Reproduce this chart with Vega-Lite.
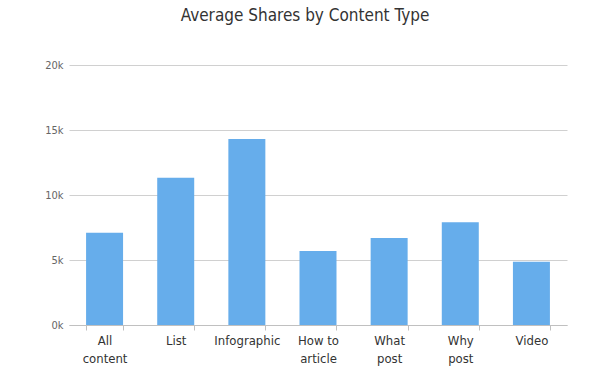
{
  "$schema": "https://vega.github.io/schema/vega-lite/v6.json",
  "autosize": "none",
  "width": 498,
  "height": 260,
  "padding": {"left": 69, "top": 65, "right": 48, "bottom": 49},
  "background": "white",
  "title": {
    "text": "Average Shares by Content Type",
    "font": "DejaVu Sans Condensed",
    "fontSize": 17,
    "fontWeight": "normal",
    "color": "#333333",
    "anchor": "middle",
    "dx": -13,
    "offset": 34
  },
  "data": {
    "values": [
      {"type": "All|content", "shares": 7100},
      {"type": "List", "shares": 11330},
      {"type": "Infographic", "shares": 14300},
      {"type": "How to|article", "shares": 5700},
      {"type": "What|post", "shares": 6700},
      {"type": "Why|post", "shares": 7900},
      {"type": "Video", "shares": 4870}
    ]
  },
  "mark": {"type": "bar", "color": "#66adeb"},
  "encoding": {
    "x": {
      "field": "type",
      "type": "nominal",
      "sort": null,
      "scale": {"paddingInner": 0.48, "paddingOuter": 0.24},
      "axis": {
        "title": null,
        "labelAngle": 0,
        "labelExpr": "split(datum.label, '|')",
        "labelFont": "DejaVu Sans Condensed",
        "labelFontSize": 13,
        "labelColor": "#333333",
        "labelLineHeight": 18,
        "labelPadding": 4,
        "domainColor": "#c0c0c0",
        "tickColor": "#c0c0c0",
        "tickBand": "extent",
        "tickSize": 5,
        "grid": false
      }
    },
    "y": {
      "field": "shares",
      "type": "quantitative",
      "scale": {"domain": [0, 20000]},
      "axis": {
        "title": null,
        "values": [0, 5000, 10000, 15000, 20000],
        "labelExpr": "(datum.value / 1000) + 'k'",
        "labelFont": "DejaVu Sans Condensed",
        "labelFontSize": 11,
        "labelColor": "#666666",
        "labelPadding": 6,
        "domain": false,
        "ticks": false,
        "grid": true,
        "gridColor": "#d0d0d0",
        "gridWidth": 1
      }
    }
  },
  "config": {"view": {"stroke": null}}
}
